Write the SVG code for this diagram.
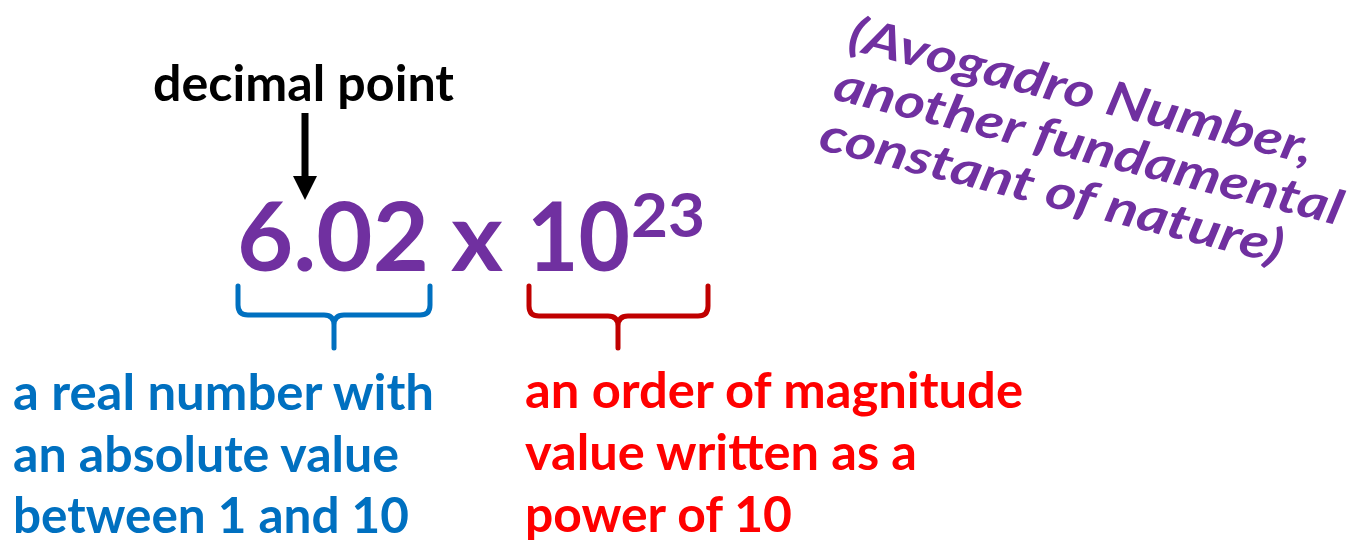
<svg xmlns="http://www.w3.org/2000/svg" width="1366" height="543" viewBox="0 0 1366 543">
<style>
text{font-family:Lato,"Open Sans","Liberation Sans",sans-serif;font-weight:bold}
.pur{fill:#7030A0}
.blu{fill:#0070C0;font-size:50px}
.red{fill:#FF0000;font-size:50px}
.brace{fill:none;stroke-width:5;stroke-linecap:round;stroke-linejoin:round}
</style>
<defs>
<marker id="ah" markerWidth="24" markerHeight="24" refX="0" refY="12" orient="auto" markerUnits="userSpaceOnUse">
<path d="M0,0 L24,12 L0,24 Z" fill="#000"/>
</marker>
</defs>
<rect width="1366" height="543" fill="#fff"/>
<g id="connectors">
<line x1="305" y1="113" x2="305" y2="176" stroke="#000" stroke-width="7" marker-end="url(#ah)"/>
<path class="brace" stroke="#0070C0" d="M238,286 L238,305 Q238,315 248,315 L324,315 Q334,315 334,325 L334,348 M334,325 Q334,315 344,315 L420,315 Q430,315 430,305 L430,286"/>
<path class="brace" stroke="#C00000" d="M529,286 L529,306 Q529,316 539,316 L608,316 Q618,316 618,326 L618,348 M618,326 Q618,316 628,316 L698,316 Q708,316 708,306 L708,286"/>
</g>
<g id="decimal-point">
<text x="153" y="101" font-size="49" fill="#000" textLength="301" lengthAdjust="spacingAndGlyphs">decimal point</text>
</g>
<g id="number">
<text class="pur" x="237" y="271" font-size="95" textLength="192" lengthAdjust="spacingAndGlyphs">6.02</text>
<text class="pur" x="451" y="271" font-size="95" textLength="52" lengthAdjust="spacingAndGlyphs">x</text>
<text class="pur" x="527" y="271" font-size="95" textLength="103" lengthAdjust="spacingAndGlyphs">10</text>
<text class="pur" x="631" y="237" font-size="62" textLength="74" lengthAdjust="spacingAndGlyphs">23</text>
</g>
<g id="avogadro" transform="translate(846,49) rotate(14)">
<text class="pur" x="0" y="0" font-size="48" font-style="italic" textLength="478" lengthAdjust="spacingAndGlyphs">(Avogadro Number,</text>
<text class="pur" x="-2" y="52" font-size="48" font-style="italic" textLength="522" lengthAdjust="spacingAndGlyphs">another fundamental</text>
<text class="pur" x="-4" y="104" font-size="48" font-style="italic" textLength="476" lengthAdjust="spacingAndGlyphs">constant of nature)</text>
</g>
<g id="mantissa-label">
<text class="blu" x="13" y="410" textLength="421" lengthAdjust="spacingAndGlyphs">a real number with</text>
<text class="blu" x="13" y="472" textLength="386" lengthAdjust="spacingAndGlyphs">an absolute value</text>
<text class="blu" x="13" y="533" textLength="396" lengthAdjust="spacingAndGlyphs">between 1 and 10</text>
</g>
<g id="exponent-label">
<text class="red" x="525" y="408" textLength="498" lengthAdjust="spacingAndGlyphs">an order of magnitude</text>
<text class="red" x="525" y="470" textLength="392" lengthAdjust="spacingAndGlyphs">value written as a</text>
<text class="red" x="525" y="532" textLength="267" lengthAdjust="spacingAndGlyphs">power of 10</text>
</g>
</svg>
